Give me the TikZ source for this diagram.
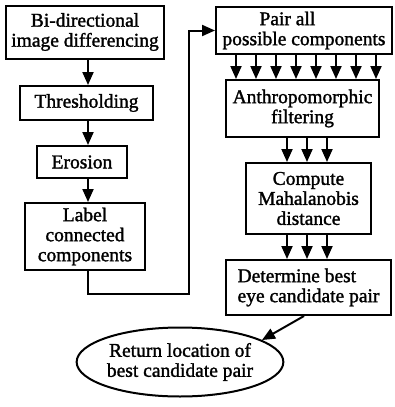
\documentclass[tikz,border=0pt]{standalone}
\usepackage{fontspec}
\setmainfont{Liberation Serif}
\newfontfamily\scanfont{Liberation Serif}[FakeBold=1.5]
\usetikzlibrary{arrows.meta,shapes.geometric}
\tikzset{
  blk/.style={draw,line width=2pt,align=center,inner sep=0pt,font=\scanfont\fontsize{19.5}{20}\selectfont},
  arr/.style={line width=2pt,-{Triangle[length=13pt,width=11pt]}}
}

\begin{document}
\begin{tikzpicture}[x=1pt,y=-1pt]
\useasboundingbox (0,0) rectangle (394,407);

%left column
\coordinate (ax) at (88,0);
\node[blk,minimum width=158pt,minimum height=53pt] (diff) at (85,32) {Bi-directional\\image differencing};
\node[blk,minimum width=133pt,minimum height=34pt] (thr) at (86.5,103) {Thresholding};
\node[blk,minimum width=90pt,minimum height=32pt] (ero) at (82,162) {Erosion};
\node[blk,minimum width=120pt,minimum height=67pt] (lab) at (85,236.5) {Label\\connected\\components};
\draw [arr] (diff.south -| ax) -- (thr.north -| ax);
\draw [arr] (thr.south -| ax) -- (ero.north -| ax);
\draw [arr] (ero.south -| ax) -- (lab.north -| ax);

%across
\coordinate (turn) at (189,294);

%right column
\node[blk,minimum width=176pt,minimum height=47pt] (pair) at (304,30.5) {Pair all\hspace*{1.7em}\\possible components};
\node[blk,minimum width=153pt,minimum height=57pt] (anth) at (302.5,108.5) {Anthropomorphic\\filtering};
\node[blk,minimum width=125pt,minimum height=71pt] (maha) at (308.5,198.5) {Compute\\Mahalanobis\\distance};
\node[blk,minimum width=165pt,minimum height=55pt,align=left] (best) at (308.5,287.5) {Determine best\\eye candidate pair};
\draw [arr] (lab.south -| ax) |- (turn) |- (pair.west);
\foreach \x in {236,256,...,376}
  \draw [arr] (pair.south -| \x,0) -- (anth.north -| \x,0);
\foreach \x in {287,307,327}
  \draw [arr] (anth.south -| \x,0) -- (maha.north -| \x,0);
\foreach \x in {287,307,327}
  \draw [arr] (maha.south -| \x,0) -- (best.north -| \x,0);

%result
\node[blk,ellipse,minimum width=189pt,minimum height=69pt] (ret) at (180,362) {Return location of\\best candidate pair};
\draw [arr] (best.south -| 304,0) -- (ret.15);
\end{tikzpicture}
\end{document}
